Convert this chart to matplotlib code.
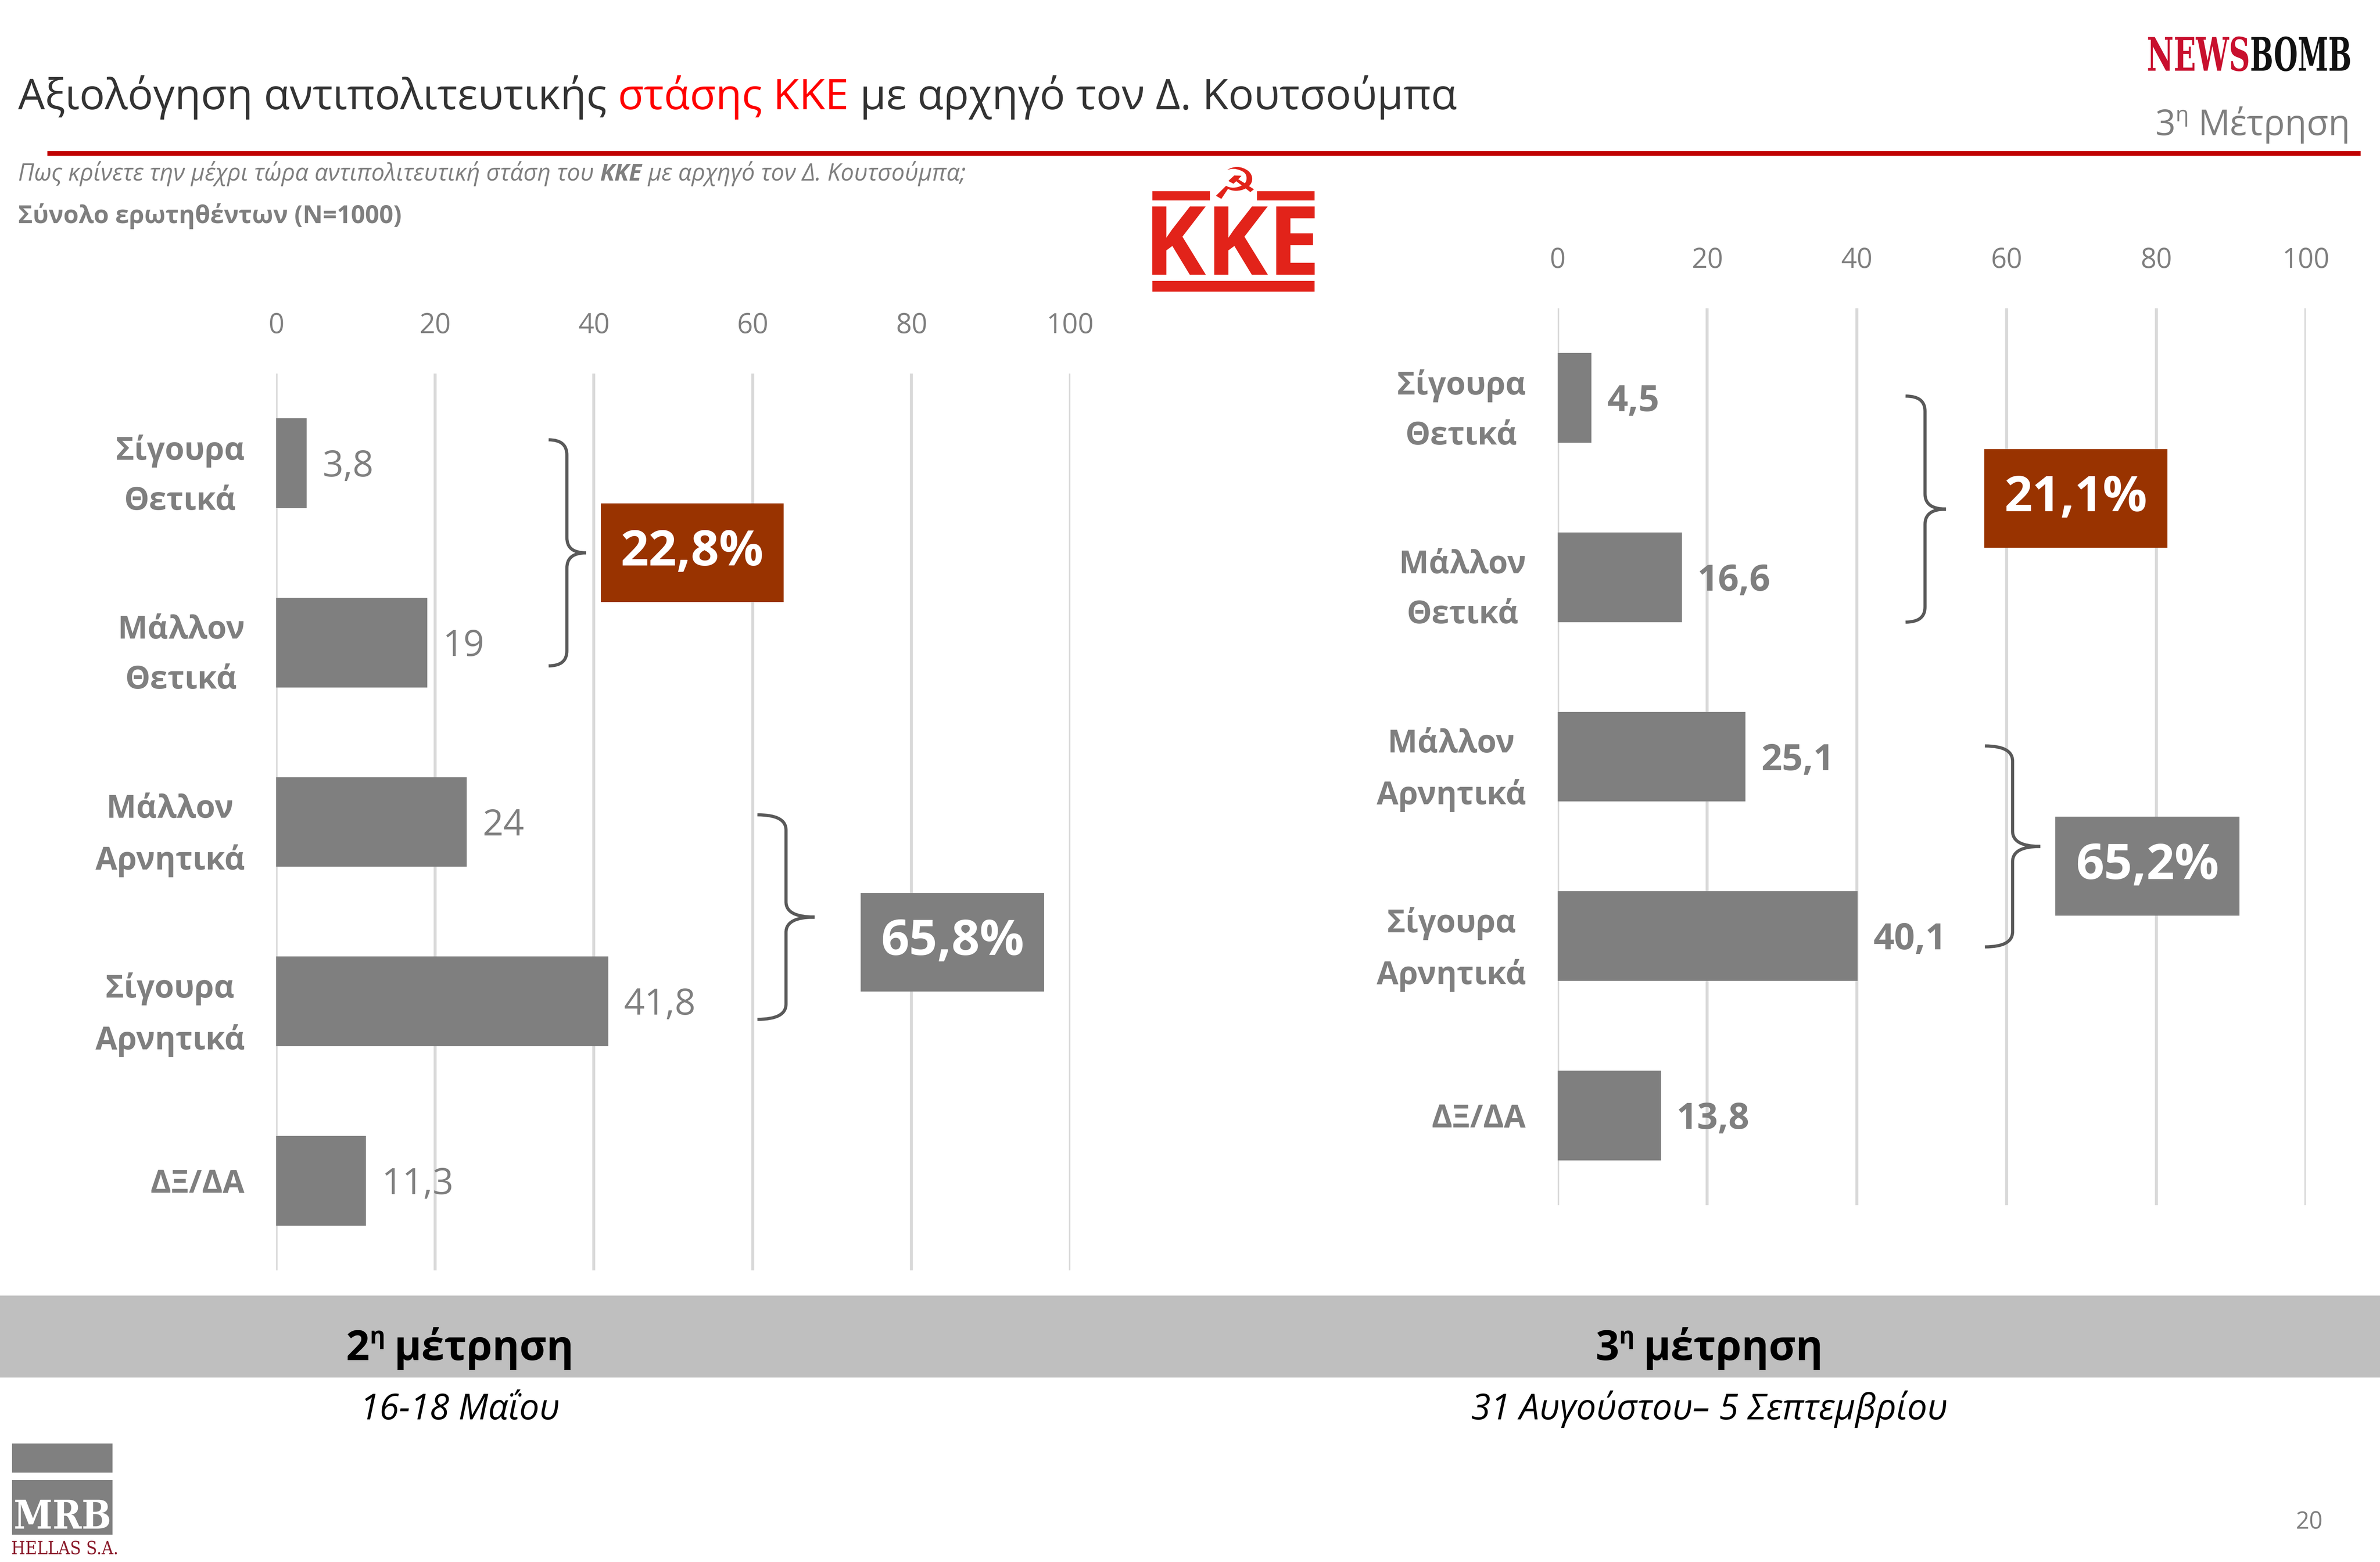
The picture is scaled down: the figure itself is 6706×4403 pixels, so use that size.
import matplotlib
matplotlib.use('Agg')
import matplotlib.pyplot as plt
from matplotlib.patches import Rectangle, PathPatch
from matplotlib.path import Path
from matplotlib.textpath import TextPath
from matplotlib.font_manager import FontProperties
from matplotlib.transforms import Affine2D

plt.rcParams['font.family'] = ['Open Sans', 'DejaVu Sans']

# δεδομένα
categories = ['Σίγουρα\nΘετικά', 'Μάλλον\nΘετικά', 'Μάλλον\nΑρνητικά', 'Σίγουρα\nΑρνητικά', 'ΔΞ/ΔΑ']
wave2_values = [3.8, 19, 24, 41.8, 11.3]
wave3_values = [4.5, 16.6, 25.1, 40.1, 13.8]
wave2_totals = [22.8, 65.8]   # θετικά, αρνητικά
wave3_totals = [21.1, 65.2]
x_ticks = [0, 20, 40, 60, 80, 100]
wave_numbers = ['2', '3']
wave_dates = ['16-18 Μαΐου', '31 Αυγούστου– 5 Σεπτεμβρίου']

W, H = 1568, 1029          # μονάδες της σελίδας (όπως η εικόνα αναφοράς)
GRAY = '#7f7f7f'
DARK = '#333333'
BROWN = '#993300'
KKE_RED = '#e2231a'

fig = plt.figure(figsize=(6707 / 400, 4403 / 400), dpi=400)
bg = fig.add_axes([0, 0, 1, 1])
bg.set_xlim(0, W)
bg.set_ylim(H, 0)
bg.axis('off')


def text_runs(x, y, parts, ha='left'):
    # κομμάτια κειμένου στη σειρά, με διαφορετικό στυλ το καθένα
    rend = fig.canvas.get_renderer()
    k = fig.get_figwidth() * fig.dpi / W
    items = []
    for s, kw in parts:
        kw = dict(kw)
        dy = kw.pop('dy', 0)
        gap = kw.pop('gap', 0)
        t = bg.text(0, y + dy, s, va='baseline', ha='left', **kw)
        w = t.get_window_extent(rend).width / k
        items.append((t, w + gap))
    total = sum(w for _, w in items)
    x0 = {'left': x, 'center': x - total / 2, 'right': x - total}[ha]
    for t, w in items:
        t.set_x(x0)
        x0 += w


def fit_text(s, x0, y0, x1, y1, color, prop):
    tp = TextPath((0, 0), s, size=100, prop=prop)
    bb = tp.get_extents()
    tr = (Affine2D().translate(-bb.x0, -bb.y1)
          .scale((x1 - x0) / bb.width, -(y1 - y0) / bb.height)
          .translate(x0, y0))
    bg.add_patch(PathPatch(tr.transform_path(tp), fc=color, ec='none', lw=0))


def brace(ax, x_tail, x_line, x_tip, y_top, y_bot, r=0.085):
    ym = (y_top + y_bot) / 2
    verts = [(x_tail, y_top), (x_line, y_top), (x_line, y_top + r),
             (x_line, ym - r), (x_line, ym), (x_tip, ym),
             (x_line, ym), (x_line, ym + r),
             (x_line, y_bot - r), (x_line, y_bot), (x_tail, y_bot)]
    codes = [Path.MOVETO, Path.CURVE3, Path.CURVE3,
             Path.LINETO, Path.CURVE3, Path.CURVE3,
             Path.CURVE3, Path.CURVE3,
             Path.LINETO, Path.CURVE3, Path.CURVE3]
    ax.add_patch(PathPatch(Path(verts, codes), fc='none', ec='#595959',
                           lw=1.6, clip_on=False, zorder=3))


def total_box(ax, x0, x1, yc, value, color):
    ax.add_patch(Rectangle((x0, yc - 0.275), x1 - x0, 0.55, fc=color, ec='none',
                           clip_on=False, zorder=3))
    ax.text((x0 + x1) / 2, yc, f'{value:.1f}'.replace('.', ',') + '%',
            ha='center', va='center', color='white', fontsize=25,
            fontweight='bold', zorder=4, clip_on=False)


def panel(rect, values, bold_values):
    ax = fig.add_axes(rect)
    ax.set_facecolor('none')
    pos = list(range(len(categories)))
    ax.barh(pos, values, height=0.5, color=GRAY, zorder=2)
    ax.set_xlim(0, 100)
    ax.set_ylim(len(categories) - 0.5, -0.5)
    ax.set_xticks(x_ticks)
    ax.xaxis.tick_top()
    ax.tick_params(axis='x', length=0, pad=17, labelsize=14, labelcolor=GRAY)
    ax.set_yticks(pos)
    ax.set_yticklabels(categories, fontsize=16, fontweight='bold', color=GRAY,
                       linespacing=1.75)
    for lab in ax.get_yticklabels():
        lab.set_multialignment('center')
    ax.tick_params(axis='y', length=0, pad=16)
    ax.grid(axis='x', color='#d9d9d9', lw=1.5)
    ax.set_axisbelow(True)
    for s in ax.spines.values():
        s.set_visible(False)
    for i, v in enumerate(values):
        ax.annotate(f'{v:g}'.replace('.', ','), (v, i), xytext=(8, -2),
                    textcoords='offset points', va='center', ha='left',
                    fontsize=18.5, color=GRAY,
                    fontweight='bold' if bold_values else 'normal')
    return ax


# αριστερό: 2η μέτρηση
ax2 = panel([182 / W, 1 - 837 / H, 523 / W, 591 / H], wave2_values, False)
brace(ax2, 34.3, 36.6, 39.0, -0.13, 1.13)
brace(ax2, 60.6, 64.2, 67.8, 1.96, 3.10)
total_box(ax2, 40.9, 63.9, 0.50, wave2_totals[0], BROWN)
total_box(ax2, 73.6, 96.7, 2.67, wave2_totals[1], GRAY)

# δεξί: 3η μέτρηση
ax3 = panel([1026 / W, 1 - 794 / H, 493 / W, 591 / H], wave3_values, True)
brace(ax3, 46.5, 49.1, 51.9, -0.01, 1.25)
brace(ax3, 57.1, 60.8, 64.5, 1.94, 3.06)
total_box(ax3, 57.0, 81.5, 0.56, wave3_totals[0], BROWN)
total_box(ax3, 66.5, 91.1, 2.61, wave3_totals[1], GRAY)

# τίτλος
text_runs(12, 72, [
    ('Αξιολόγηση αντιπολιτευτικής', dict(fontsize=21.5, color=DARK, gap=7.3)),
    ('στάσης ΚΚΕ', dict(fontsize=21.5, color='#ff0000', gap=7.3)),
    ('με αρχηγό τον Δ. Κουτσούμπα', dict(fontsize=21.5, color=DARK)),
])
bg.plot([31, 1555], [101, 101], color='#c00000', lw=2.4, solid_capstyle='butt')

text_runs(12, 119, [
    ('Πως κρίνετε την μέχρι τώρα αντιπολιτευτική στάση του',
     dict(fontsize=12, style='italic', color=GRAY, gap=4)),
    ('ΚΚΕ', dict(fontsize=12, style='italic', fontweight='bold', color=GRAY, gap=4)),
    ('με αρχηγό τον Δ. Κουτσούμπα;', dict(fontsize=12, style='italic', color=GRAY)),
])
text_runs(12, 147, [('Σύνολο ερωτηθέντων (N=1000)',
                     dict(fontsize=12.5, fontweight='bold', color=GRAY))])

text_runs(1548, 89, [
    ('3', dict(fontsize=18, color=GRAY)),
    ('η', dict(fontsize=11, color=GRAY, dy=-9, gap=6)),
    ('Μέτρηση', dict(fontsize=18, color=GRAY)),
], ha='right')

# λογότυπα
fit_text('NEWS', 1415, 24, 1481, 47, '#c8102e',
         FontProperties(family='DejaVu Serif', weight='bold'))
fit_text('BOMB', 1483, 24, 1548, 47, '#111111',
         FontProperties(family='DejaVu Serif', weight='bold'))

bg.add_patch(Rectangle((759, 126), 38, 6, fc=KKE_RED, ec='none'))
bg.add_patch(Rectangle((828, 126), 38, 6, fc=KKE_RED, ec='none'))
fit_text('\u262d', 801, 110, 826, 131, KKE_RED, FontProperties(family='DejaVu Sans'))
fit_text('ΚΚΕ', 759, 136, 866, 181, KKE_RED,
         FontProperties(family='Open Sans', weight='bold'))
bg.add_patch(Rectangle((759, 185), 107, 7, fc=KKE_RED, ec='none'))

bg.add_patch(Rectangle((8, 951), 66, 19, fc='#808080', ec='none'))
bg.add_patch(Rectangle((8, 975), 66, 36, fc='#808080', ec='none'))
fit_text('MRB', 10, 988, 72, 1007, 'white',
         FontProperties(family='DejaVu Serif', weight='bold'))
fit_text('HELLAS S.A.', 8, 1015, 77, 1024, '#8b1c2c',
         FontProperties(family='DejaVu Serif'))
bg.text(1530, 1003, '20', ha='right', va='center', fontsize=12, color=GRAY)

# κάτω ζώνη με τις μετρήσεις
bg.add_patch(Rectangle((0, 853.5), W, 54, fc='#bfbfbf', ec='none'))
for cx, num, date in zip([303, 1126], wave_numbers, wave_dates):
    text_runs(cx, 896, [
        (num, dict(fontsize=21, fontweight='bold', color='black')),
        ('η', dict(fontsize=12, fontweight='bold', color='black', dy=-11, gap=6)),
        ('μέτρηση', dict(fontsize=21, fontweight='bold', color='black')),
    ], ha='center')
    text_runs(cx, 935, [(date, dict(fontsize=18, style='italic', color='black'))],
              ha='center')

fig.savefig('out.png', dpi=400)
